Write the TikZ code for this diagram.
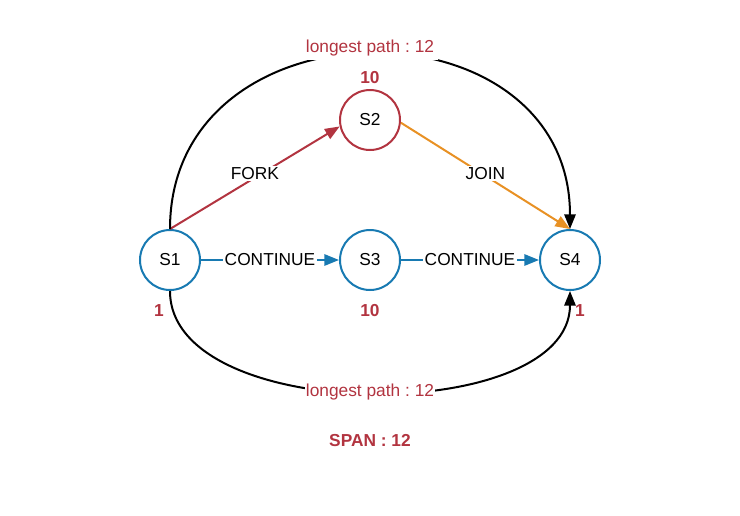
\documentclass[tikz,border=0pt]{standalone}
\usepackage{fontspec}
\setmainfont{Liberation Sans}
\usepackage{xcolor}
\usetikzlibrary{arrows.meta}
\definecolor{spanred}{RGB}{178,52,64}
\definecolor{flowblue}{RGB}{24,122,178}
\definecolor{joinorange}{RGB}{232,145,36}
\frenchspacing

\begin{document}
\begin{tikzpicture}[x=0.75pt, y=-0.75pt,
  every node/.style={font=\fontsize{13}{15}\selectfont},
  state/.style={circle, draw=flowblue, line width=1.5pt, fill=white, minimum size=45pt, inner sep=0pt},
  weight/.style={text=spanred, font=\fontsize{13}{15}\selectfont\bfseries},
  edgelabel/.style={fill=white, inner sep=1pt},
  tip/.style={-{Triangle[length=11pt, width=8.5pt]}, line width=1.5pt}]
\useasboundingbox (0,0) rectangle (740,515);
% states
\node[state] (s1) at (170,260) {S1};
\node[state, draw=spanred] (s2) at (370,120) {S2};
\node[state] (s3) at (370,260) {S3};
\node[state] (s4) at (570,260) {S4};
% weights
\node[weight] (w1) at (159,311) {1};
\node[weight] (w2) at (370,78) {10};
\node[weight] (w3) at (370,311) {10};
\node[weight] (w4) at (580,311) {1};
% transitions
\draw[tip, spanred] (s1.north) -- node[edgelabel, text=black, yshift=3.5pt] {FORK} (s2.192);
\draw[tip, joinorange] (s2.355) -- node[edgelabel, text=black, yshift=2pt] {JOIN} (s4.north);
\draw[tip, flowblue] (s1.east) -- node[edgelabel, text=black] {CONTINUE} (s3.west);
\draw[tip, flowblue] (s3.east) -- node[edgelabel, text=black] {CONTINUE} (s4.west);
% longest paths
\draw[tip, black] (s1.north) .. controls (170,-4) and (570,-4) .. node[edgelabel, pos=0.5, yshift=5pt, text=spanred, inner sep=3pt] (lp1) {longest path : 12} (s4.north);
\draw[tip, black] (s1.south) .. controls (170,426) and (570,426) .. node[edgelabel, pos=0.5, text=spanred] (lp2) {longest path : 12} (s4.south);
\node[weight] (span) at (370,441) {SPAN : 12};
\end{tikzpicture}
\end{document}
